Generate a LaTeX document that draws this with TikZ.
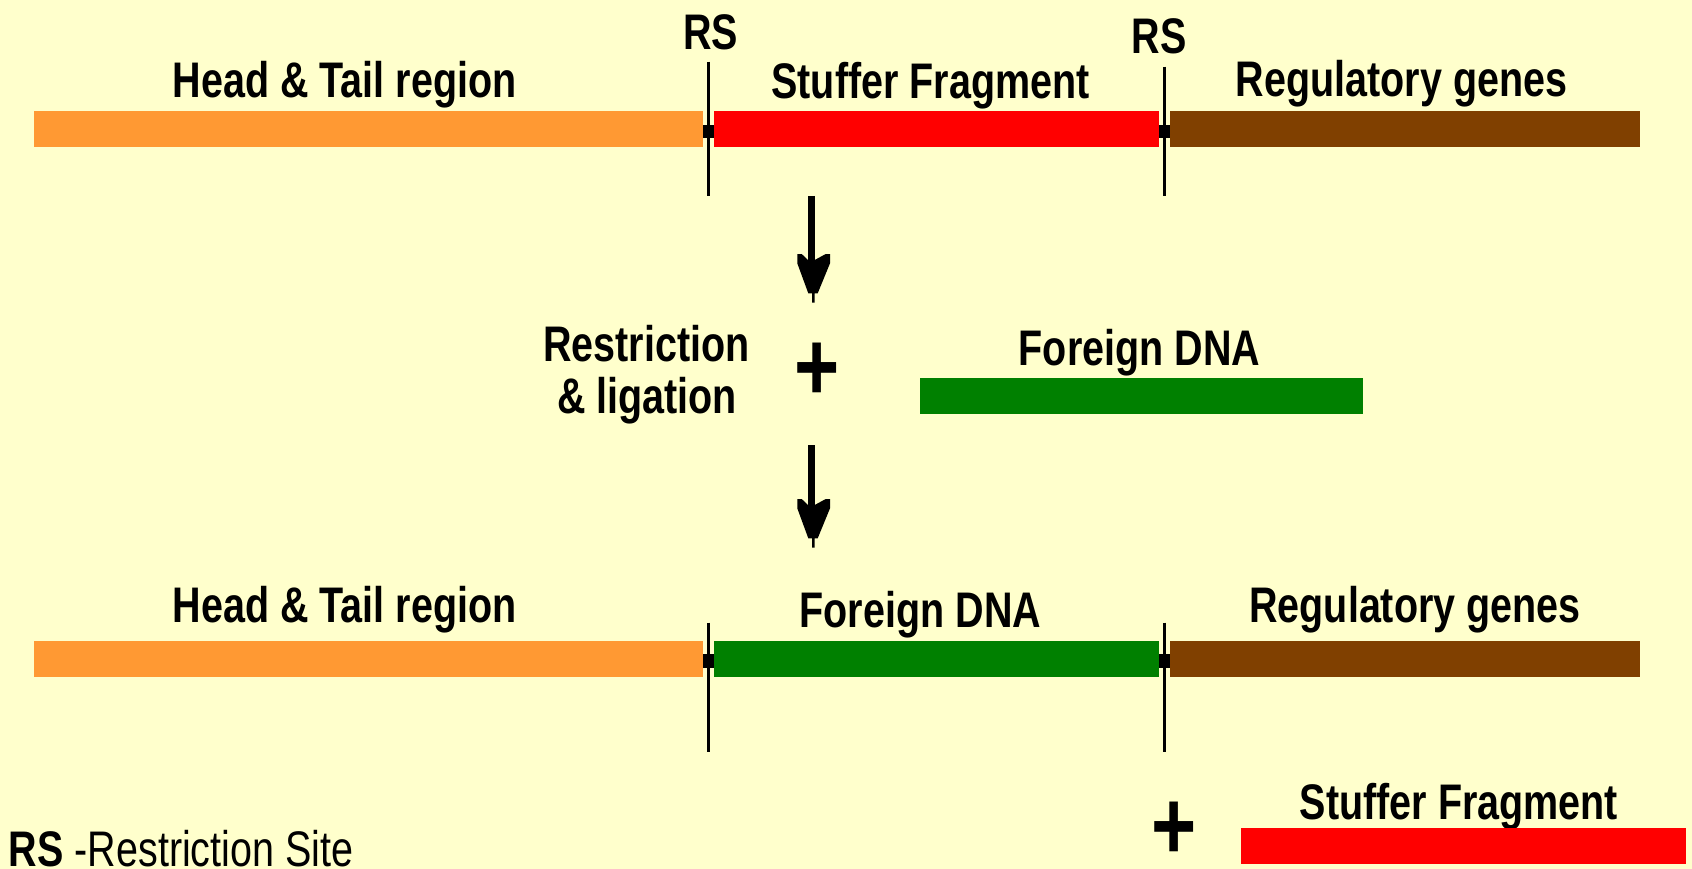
\documentclass[tikz,border=0pt]{standalone}
\usepackage{fontspec}
\newfontfamily\labfont{Liberation Sans}[FakeStretch=0.79]
\definecolor{bgc}{HTML}{FFFFCC}
\definecolor{orangebar}{HTML}{FF9933}
\definecolor{redbar}{HTML}{FF0000}
\definecolor{brownbar}{HTML}{804000}
\definecolor{greenbar}{HTML}{008000}
\tikzset{
  lbl/.style={inner sep=0pt, anchor=base, font={\labfont\bfseries\fontsize{50}{60}\selectfont}},
  plussign/.style={inner sep=0pt, anchor=center, font={\labfont\bfseries\fontsize{98}{110}\selectfont}},
  rsline/.style={line width=3pt, black},
  joint/.style={fill=black},
  shaft/.style={line width=6.7pt, black},
}
\newcommand{\myhead}[1]{%
  \fill[black, shift={(#1)}] (-14.7,-48.7) -- (-10.3,-48.7) -- (-4,-42.7) -- (2.7,-42.7) -- (13.7,-48.7) -- (18,-48.7) -- (18,-39.4) -- (5.7,-9.4) -- (2.7,-9.4) -- (2.7,0) -- (0,0) -- (0,-9.4) -- (-3.7,-9.4) -- (-14.7,-39.4) -- cycle;}
\begin{document}
\begin{tikzpicture}[x=1pt,y=-1pt]
\fill[bgc] (0,0) rectangle (1692,869);
\useasboundingbox (0,0) rectangle (1692,869);

% ---- top row ----
\fill[orangebar] (34,111) rectangle (702.9,146.7);
\fill[joint] (702.9,125) rectangle (713.9,137.7);
\fill[redbar] (713.9,111) rectangle (1158.6,146.7);
\fill[joint] (1158.6,125) rectangle (1170,137.7);
\fill[brownbar] (1170,111) rectangle (1639.5,146.7);
\coordinate (rs1t) at (708.2,61.7);
\coordinate (rs1b) at (708.2,196);
\coordinate (rs2t) at (1164.3,66.7);
\coordinate (rs2b) at (1164.3,196);
\draw[rsline] (rs1t) -- (rs1b);
\draw[rsline] (rs2t) -- (rs2b);
\node[lbl] (ht1) at (344.5,97.7) {Head \& Tail region};
\node[lbl] (sf1) at (930.5,98.3) {Stuffer Fragment};
\node[lbl] (rg1) at (1401.5,96.7) {Regulatory genes};
\node[lbl] (rsa) at (710.5,49.3) {RS};
\node[lbl] (rsb) at (1159,53.3) {RS};

% ---- arrows ----
\coordinate (a1s) at (811.35,196);
\coordinate (a1e) at (811.35,262);
\coordinate (a1t) at (812,302.7);
\draw[shaft] (a1s) -- (a1e);
\myhead{a1t}
\coordinate (a2s) at (811.35,445);
\coordinate (a2e) at (811.35,507);
\coordinate (a2t) at (812,547.7);
\draw[shaft] (a2s) -- (a2e);
\myhead{a2t}

% ---- middle ----
\node[lbl] (restr) at (646.5,361.7) {Restriction};
\node[lbl] (lig) at (647,413) {\& ligation};
\node[plussign] (plus1) at (817,371.5) {+};
\node[lbl] (fd1) at (1139.5,365) {Foreign DNA};
\fill[greenbar] (920,377.7) rectangle (1362.6,414);

% ---- bottom row ----
\fill[orangebar] (34,641) rectangle (702.9,676.7);
\fill[joint] (702.9,654) rectangle (713.9,667.7);
\fill[greenbar] (713.9,641) rectangle (1158.6,676.7);
\fill[joint] (1158.6,654) rectangle (1170,667.7);
\fill[brownbar] (1170,641) rectangle (1640,676.7);
\coordinate (rs3t) at (708.2,622.7);
\coordinate (rs3b) at (708.2,751.7);
\coordinate (rs4t) at (1164.3,622.7);
\coordinate (rs4b) at (1164.3,751.7);
\draw[rsline] (rs3t) -- (rs3b);
\draw[rsline] (rs4t) -- (rs4b);
\node[lbl] (ht2) at (344.5,622.7) {Head \& Tail region};
\node[lbl] (fd2) at (920.4,627.7) {Foreign DNA};
\node[lbl] (rg2) at (1415,622.7) {Regulatory genes};

% ---- released stuffer ----
\node[plussign] (plus2) at (1174,830.5) {+};
\node[lbl] (sf2) at (1459,819) {Stuffer Fragment};
\fill[redbar] (1241,828) rectangle (1686,864);

% ---- legend ----
\node[inner sep=0pt, anchor=base west, font={\labfont\fontsize{50}{60}\selectfont}] (legend) at (8.6,866) {\textbf{RS} -Restriction Site};
\end{tikzpicture}
\end{document}
